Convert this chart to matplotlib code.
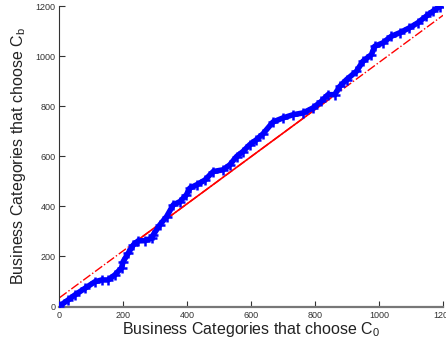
import numpy as np
import matplotlib.pyplot as plt

plt.rcParams['font.family'] = ['Liberation Sans', 'DejaVu Sans']
plt.rcParams['mathtext.fontset'] = 'custom'
plt.rcParams['mathtext.rm'] = 'Liberation Sans'
plt.rcParams['mathtext.it'] = 'Liberation Sans'

# number of categories choosing C0 vs number choosing Cb
c0_counts = [0, 27, 48, 80, 111, 132, 152, 173, 194, 199, 215, 231, 246, 267,
             288, 293, 314, 335, 356, 377, 397, 408, 429, 455, 481, 512, 533,
             554, 574, 595, 616, 637, 668, 699, 731, 762, 793, 819, 840, 861,
             877, 898, 929, 949, 976, 986, 1012, 1038, 1064, 1095, 1121, 1147,
             1168, 1189]
cb_counts = [2, 26, 46, 73, 99, 106, 106, 126, 154, 179, 213, 246, 262, 263,
             273, 286, 326, 359, 406, 419, 446, 473, 486, 505, 539, 546, 566,
             599, 619, 646, 666, 690, 737, 753, 766, 773, 793, 819, 846, 846,
             879, 906, 939, 979, 1006, 1039, 1053, 1079, 1093, 1113, 1133, 1159,
             1179, 1198]

# linear fit line: full extent dash-dot, solid over the middle
fit_slope = 0.94
fit_intercept = 35
fit_full = [0, 1200]
fit_solid = [250, 850]

fig = plt.figure(figsize=(4.46, 3.44), dpi=100)
ax = fig.add_axes([0.1334, 0.109, 0.86, 0.8735])

ax.plot(c0_counts, cb_counts, '-', color='#0000ff', lw=4.0, zorder=3)
ax.plot(c0_counts, cb_counts, '+', color='#0000ff', ms=7, mew=1.8, zorder=3)

xf = np.array(fit_full)
ax.plot(xf, fit_slope * xf + fit_intercept, color='#ff0000', ls='-.', lw=1.0, zorder=2)
xs = np.array(fit_solid)
ax.plot(xs, fit_slope * xs + fit_intercept, color='#ff0000', ls='-', lw=1.2, zorder=2)

ax.set_xlim(0, 1200)
ax.set_ylim(0, 1200)
ax.set_xticks([0, 200, 400, 600, 800, 1000, 1200])
ax.set_yticks([0, 200, 400, 600, 800, 1000, 1200])
ax.tick_params(direction='in', labelsize=6.5, length=4, width=0.8,
               colors='#333333', pad=3)

for side in ['top', 'right']:
    ax.spines[side].set_visible(False)
ax.spines['left'].set_color('#333333')
ax.spines['bottom'].set_color('#777777')
ax.spines['bottom'].set_linewidth(1.6)

ax.set_xlabel('Business Categories that choose C$_0$', fontsize=11.5,
              color='#222222', labelpad=0)
ax.set_ylabel('Business Categories that choose C$_b$', fontsize=11.5,
              color='#222222', labelpad=5)

fig.savefig('out.png', dpi=100)
